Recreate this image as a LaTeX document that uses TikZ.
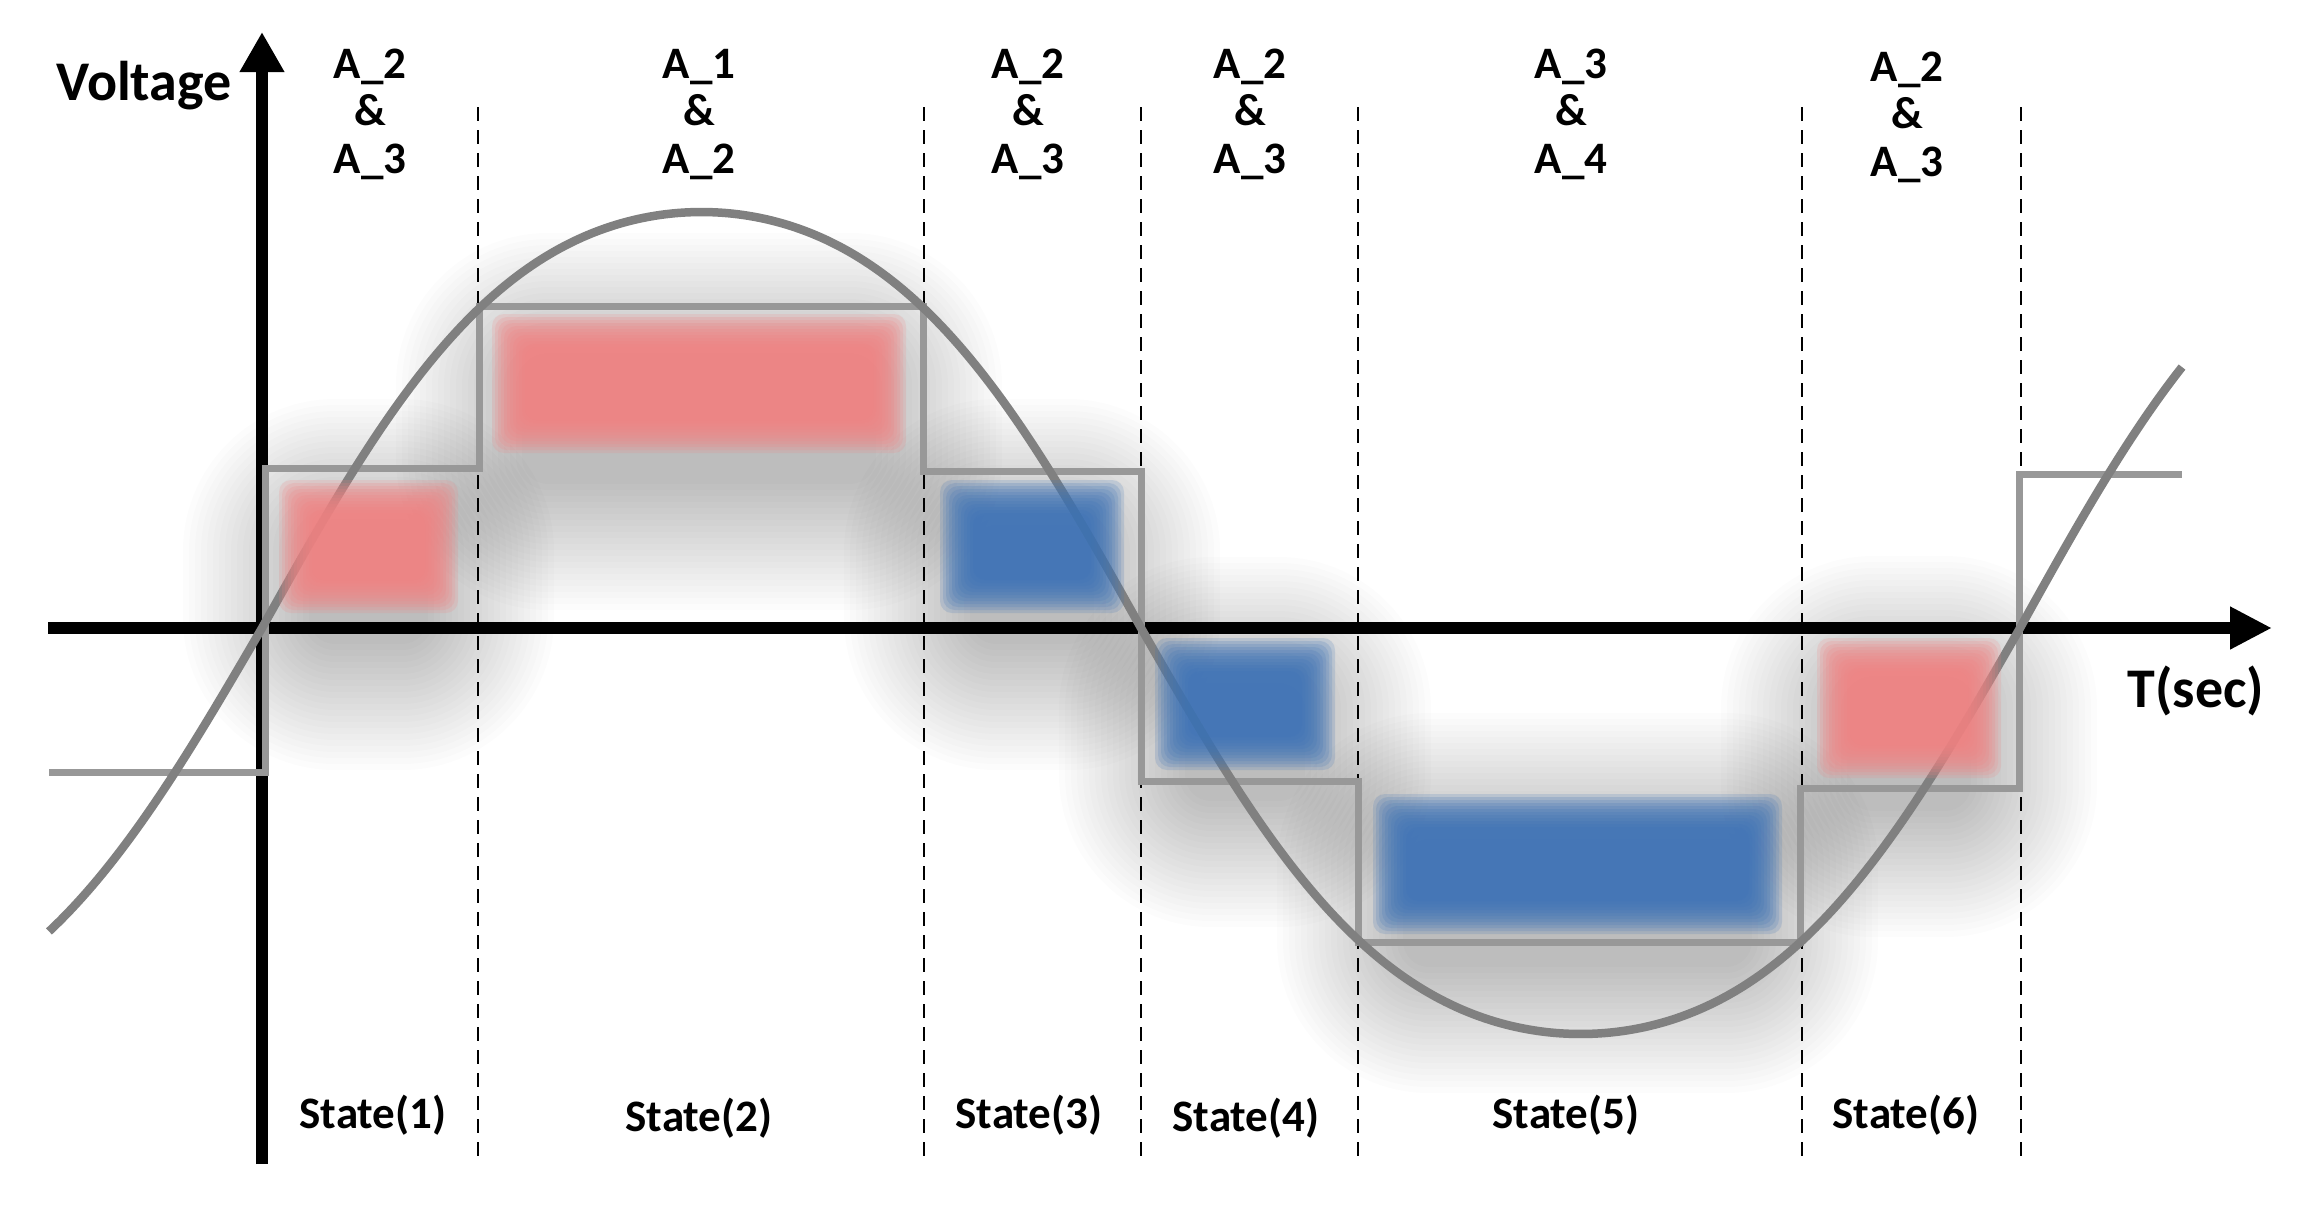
\documentclass[tikz,border=0pt]{standalone}
\usepackage{fontspec}
\setmainfont{Carlito}
\usetikzlibrary{arrows.meta}
\definecolor{pinkc}{RGB}{244,130,130}
\definecolor{bluec}{RGB}{60,114,182}
\definecolor{curvec}{RGB}{128,128,128}
\definecolor{stepc}{RGB}{152,152,152}
\tikzset{
  axisline/.style={line width=12pt, black},
  dashline/.style={line width=2.6pt, black, dash pattern=on 14pt off 9pt},
  stepline/.style={line width=7pt, stepc, line join=miter},
  curveline/.style={line width=8.5pt, curvec, line join=round, line cap=butt},
  lbl/.style={font=\fontsize{45}{54}\selectfont\bfseries, inner sep=0pt},
  biglbl/.style={font=\fontsize{56}{66}\selectfont\bfseries, inner sep=0pt}
}
\newcommand\myshadow[4]{%
  \foreach \i in {1,...,22}{%
    \pgfmathsetmacro\e{\i*6}%
    \pgfmathsetmacro\r{\e+20}%
    \fill[black, opacity=0.0105, rounded corners=\r pt] (#1-\e+25,#2-\e+38) rectangle (#3+\e-25,#4+\e+38);
  }%
}
\newcommand\mysoftbox[5]{%
  \foreach \i in {0,...,11}{%
    \pgfmathsetmacro\d{(\i-5)*3}%
    \fill[#5, opacity=0.18, rounded corners=12pt] (#1+\d,#2+\d) rectangle (#3-\d,#4-\d);
  }%
}
\def\U{((\x-262)*0.204778+5.73*sin((\x-262)*0.409556))}
\begin{document}
\begin{tikzpicture}[x=1pt,y=-1pt]
\fill[white] (0,0) rectangle (2306,1211);
\useasboundingbox (0,0) rectangle (2306,1211);
% shadows
\myshadow{290}{493}{447}{600}
\myshadow{503}{327}{895}{440}
\myshadow{951}{493}{1113}{600}
\myshadow{1166}{651}{1324}{757}
\myshadow{1384}{807}{1771}{923}
\myshadow{1828}{650}{1990}{767}
% dashed separators
\foreach \dx in {478,924,1141,1358,1802,2021}{
  \draw[dashline] (\dx,107) -- (\dx,1162);
}
% axes
\draw[axisline, -{Triangle[length=40pt,width=42pt]}] (262,1164) -- (262,32);
\draw[axisline, -{Triangle[length=42pt,width=40pt]}] (48,628) -- (2272,628);
% step waveform
\draw[stepline] (49,772) -- (265,772) -- (265,468) -- (479,468) -- (479,306) -- (923,306)
  -- (923,471) -- (1141,471) -- (1141,781) -- (1358,781) -- (1358,942) -- (1800,942)
  -- (1800,788) -- (2019,788) -- (2019,474) -- (2182,474);
% curve
\draw[curveline] plot[domain=49:262, samples=40] (\x,{628-400*sin(\U)})
  -- plot[domain=262:1141, samples=160] (\x,{628-416*sin(\U)})
  -- plot[domain=1141:2020, samples=160] (\x,{628-406*sin(\U)})
  -- plot[domain=2020:2182, samples=30] (\x,{628-420*sin(\U)});
% soft boxes
\mysoftbox{294}{495}{443}{598}{pinkc}
\mysoftbox{507}{329}{891}{438}{pinkc}
\mysoftbox{955}{495}{1109}{598}{bluec}
\mysoftbox{1170}{653}{1320}{755}{bluec}
\mysoftbox{1388}{809}{1767}{919}{bluec}
\mysoftbox{1832}{653}{1986}{763}{pinkc}
% labels
\node[biglbl, anchor=base] (vlab) at (144,100) {Voltage};
\node[biglbl, anchor=base] (tlab) at (2196,707) {T(sec)};
\foreach \cx/\p/\q/\dy/\n in {370/A\_2/A\_3/0/1, 699/A\_1/A\_2/0/2, 1028/A\_2/A\_3/0/3, 1250/A\_2/A\_3/0/4, 1571/A\_3/A\_4/0/5, 1907/A\_2/A\_3/3/6}{
  \node[lbl, anchor=base] (ta\n) at (\cx,78+\dy) {\p};
  \node[lbl, anchor=base] (tb\n) at (\cx,125+\dy) {\&};
  \node[lbl, anchor=base] (tc\n) at (\cx,173+\dy) {\q};
}
\foreach \cx/\dy/\n in {373/0/1, 699/3/2, 1029/0/3, 1246/3/4, 1566/0/5, 1906/0/6}{
  \node[lbl, anchor=base] (st\n) at (\cx,1128+\dy) {State(\n)};
}
\end{tikzpicture}
\end{document}
